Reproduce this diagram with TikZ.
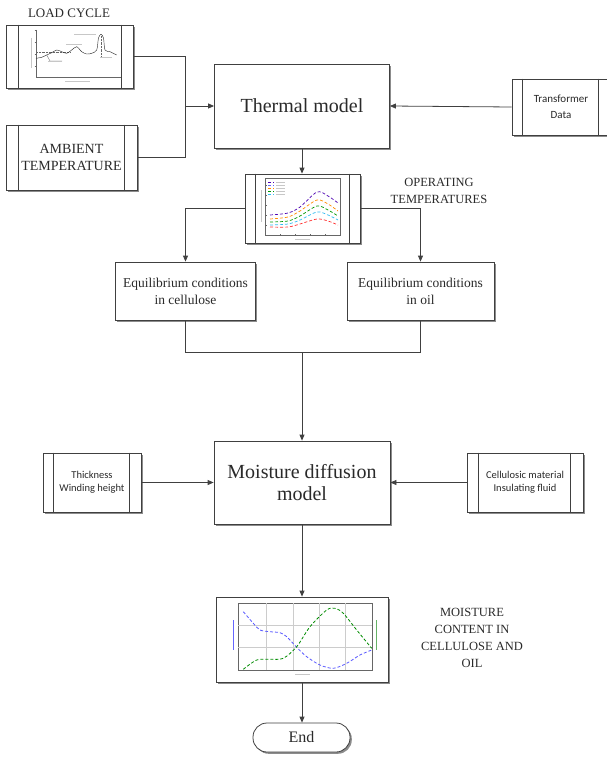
\documentclass[tikz,border=0pt]{standalone}
\usepackage{fontspec}
\setmainfont{Liberation Serif}
\newfontfamily\tnr{Liberation Serif}
\newfontfamily\calib{Carlito}
\usetikzlibrary{shadows,calc,arrows.meta}
\definecolor{lc}{HTML}{404040}
\definecolor{tc}{HTML}{2A2A2A}
\begin{document}
\begin{tikzpicture}[x=1pt,y=-1pt,
  line/.style={draw=lc, line width=0.8pt},
  arr/.style={line, -{Triangle[length=6pt,width=5pt]}},
  box/.style={draw=lc, line width=0.8pt, fill=white, text=tc,
    drop shadow={shadow xshift=1.8pt,shadow yshift=-1.8pt,fill=black!45,opacity=1},
    inner sep=0pt, align=center},
  lbl/.style={text=tc, align=center, inner sep=0pt},
  fbig/.style={font=\tnr\fontsize{20}{22}\selectfont},
  fmid/.style={font=\tnr\fontsize{13.5}{17}\selectfont},
  fcap/.style={font=\tnr\fontsize{12.5}{16.5}\selectfont},
  fsans/.style={font=\calib\fontsize{10.5}{13}\selectfont},
  ax/.style={draw=black!60, line width=0.3pt},
  grd/.style={draw=black!20, line width=0.3pt},
  blob/.style={draw=black!22, line width=1pt},
]
\useasboundingbox (0,0) rectangle (607,765);

% ---------- nodes ----------
\node[box, font=\tnr\fontsize{14}{17}\selectfont, minimum width=131, minimum height=65] (amb) at (71.5,157.5) {AMBIENT\\TEMPERATURE};
\node[box, minimum width=127, minimum height=63] (lc) at (69.5,56.5) {};
\node[box, fbig, minimum width=175, minimum height=84] (tm) at (302,106) {Thermal model};
\node[box, font=\calib\fontsize{11}{16}\selectfont, minimum width=98, minimum height=56] (td) at (561,107) {Transformer\\Data};
\node[box, minimum width=115, minimum height=69] (op) at (302.5,208.5) {};
\node[box, fmid, minimum width=140, minimum height=58] (eqc) at (185.5,291) {Equilibrium conditions\\in cellulose};
\node[box, fmid, minimum width=147, minimum height=58] (eqo) at (420.5,291) {Equilibrium conditions\\in oil};
\node[box, fbig, minimum width=176, minimum height=83] (md) at (302,482.5) {Moisture diffusion\\model};
\node[box, fsans, minimum width=98, minimum height=59] (th) at (92,482.5) {Thickness\\Winding height};
\node[box, fsans, minimum width=116, minimum height=59] (cm) at (525,482.5) {Cellulosic material\\Insulating fluid};
\node[box, minimum width=172, minimum height=85] (mc) at (302,639.5) {};
\node[box, font=\tnr\fontsize{16}{18}\selectfont, minimum width=97, minimum height=29, rounded corners=14pt] (end) at (301.5,737.5) {End};

% labels
\node[lbl, font=\tnr\fontsize{13}{16.5}\selectfont] (llc) at (69,13) {LOAD CYCLE};
\node[lbl, fcap] (lop) at (439,191) {OPERATING\\TEMPERATURES};
\node[lbl, font=\tnr\fontsize{12.5}{17}\selectfont] (lmc) at (472,638) {MOISTURE\\CONTENT IN\\CELLULOSE AND\\OIL};

% inner vertical lines of process boxes
\foreach \n/\a/\b in {lc/13/12, amb/13/13, td/11/12, op/11/11, th/11/12, cm/12/13}{
  \draw[line] ($(\n.north west)+(\a,0)$) -- ($(\n.south west)+(\a,0)$);
  \draw[line] ($(\n.north east)-(\b,0)$) -- ($(\n.south east)-(\b,0)$);
}

% ---------- connectors ----------
\coordinate (jl) at (185,106);
\draw[line] (lc.east) -| (jl);
\draw[line] (amb.east) -| (jl);
\draw[arr] (jl) -- (tm.west);
\draw[arr] (td.west) -- (tm.east);
\draw[arr] (tm.south) -- (tm.south |- op.north);
\draw[arr] (op.west) -| (eqc.north);
\draw[arr] (op.east) -| (eqo.north);
\coordinate (jm) at (302,352);
\draw[line] (eqc.south) |- (jm);
\draw[line] (eqo.south) |- (jm);
\draw[arr] (jm) -- (md.north);
\draw[arr] (th.east) -- (md.west);
\draw[arr] (cm.west) -- (md.east);
\draw[arr] (md.south) -- (mc.north);
\draw[arr] (mc.south) -- (mc.south |- end.north);

% ---------- chart: load cycle ----------
\draw[ax] (36,30) -- (36,77) -- (120,77);
\foreach \xx in {36,57,78,99,120} \draw[ax] (\xx,77) -- (\xx,78.5);
\foreach \yy in {30,42,54,66} \draw[ax] (34.5,\yy) -- (36,\yy);
\draw[black!60, densely dotted, line width=0.4pt] (36,52.7) -- (70,52.7);
\draw[black!60, densely dotted, line width=0.4pt] (101,36) -- (101,57);
\draw[black!80, line width=0.45pt] plot[smooth] coordinates {(36,58.3) (41.7,57.3) (46.7,55) (51.7,52.7) (56.7,50) (61.7,51.7) (66.7,53.3) (71.7,50) (76.7,46.7) (81.7,51.7) (86.7,54) (91.7,53.3) (96.7,50) (98.5,38) (101,34.3) (103.5,38) (105,50) (110,51.7) (116.7,55)};
\draw[black!60, line width=0.35pt] (46.7,55) -- (50,61) -- (62,61);
\foreach \xa/\ya/\xb in {48/62/62, 66/45/82, 74/35/96, 100/58/112}
  \draw[blob] (\xa,\ya) -- (\xb,\ya);
\draw[blob] (31,38) -- (31,68);
\draw[blob] (65,82) -- (90,82);

% ---------- chart: operating temperatures ----------
\draw[ax] (265,178) rectangle (340,235);
\foreach \xx in {265,280,295,310,325,340} \draw[ax] (\xx,235) -- (\xx,233.5);
\foreach \yy in {185,195,205,215,225} \draw[ax] (265,\yy) -- (266.5,\yy);
\draw[blob] (261,190) -- (261,222);
\draw[blob] (295,239) -- (310,239);
\foreach \c/\yy in {blue!70!red/182, blue!60/185, orange!90!yellow/188, green!60!black/191, cyan!80/194}{
  \draw[\c, densely dashed, line width=0.5pt] (268,\yy) -- (274,\yy);
  \draw[blob, line width=0.8pt] (276,\yy) -- (285,\yy);
}
\draw[blue!70!red, densely dashed, line width=0.7pt] plot[smooth] coordinates {(270,215) (288,213) (300,207) (317,192) (328,196) (338,203)};
\draw[orange!90!yellow, densely dashed, line width=0.7pt] plot[smooth] coordinates {(270,219) (288,217) (300,211) (317,200) (328,204) (338,211)};
\draw[green!60!black, densely dashed, line width=0.7pt] plot[smooth] coordinates {(270,222) (288,221) (300,216) (317,206) (328,210) (338,216)};
\draw[cyan!80, densely dashed, line width=0.7pt] plot[smooth] coordinates {(270,225) (288,224) (300,220) (317,212) (328,215) (338,220)};
\draw[red!80, densely dashed, line width=0.7pt] plot[smooth] coordinates {(270,227) (288,227) (300,224) (317,219) (328,221) (338,225)};

% ---------- chart: moisture content ----------
\draw[ax] (238,603) rectangle (372,670);
\foreach \xx in {266,293,319,345} \draw[grd] (\xx,603) -- (\xx,670);
\foreach \yy in {625,647} \draw[grd] (238,\yy) -- (372,\yy);
\draw[blue!60, line width=0.6pt] (233,620) -- (233,650);
\draw[green!50!black!60, line width=0.6pt] (376,620) -- (376,650);
\draw[blob] (295,674) -- (310,674);
\draw[blue!65, densely dashed, line width=0.8pt] plot[smooth] coordinates {(243.3,611.7) (253.3,623.3) (260,630) (270,631.7) (280,632.7) (286.7,636.7) (296.7,647.3) (306.7,656.7) (320,665) (333.3,668.3) (346.7,663.3) (360,655) (371.7,650)};
\draw[green!55!black, densely dashed, line width=0.8pt] plot[smooth] coordinates {(243.3,669.3) (256.7,660) (270,659.3) (283.3,658.3) (296.7,646.7) (310,626.7) (326.7,610) (335,608.3) (343.3,613.3) (356.7,630) (371.7,648.3)};
\end{tikzpicture}
\end{document}
